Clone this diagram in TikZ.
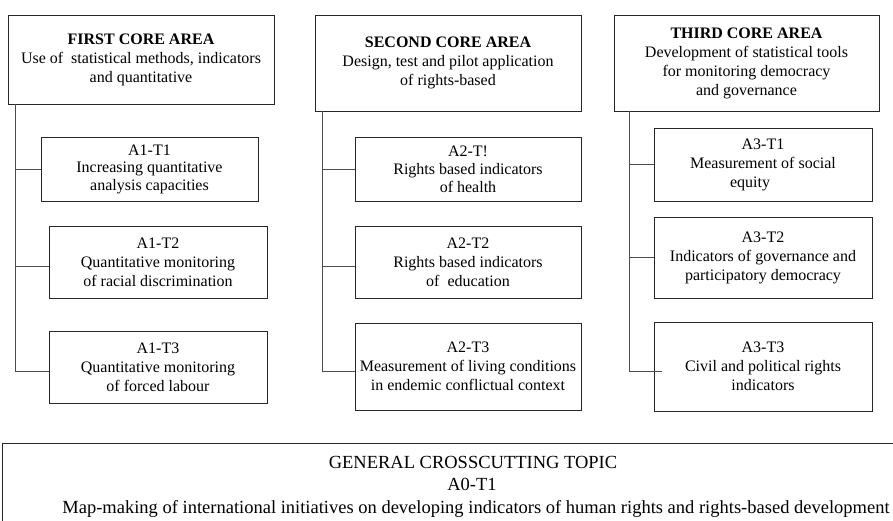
\documentclass[tikz,border=0pt]{standalone}
\usepackage{fontspec}
\setmainfont{Liberation Serif}
\begin{document}
\begin{tikzpicture}[x=1pt,y=-1pt,
  box/.style={draw=black!85, line width=0.8pt, inner sep=0pt, align=center,
    font=\fontsize{16}{19}\selectfont},
  link/.style={draw=black!70, line width=0.8pt},
  gentext/.style={inner sep=0pt, font=\fontsize{18.5}{22}\selectfont}]
\clip (0,0) rectangle (893,520);
% core areas
\node[box, minimum width=266, minimum height=89] (C1) at (141,59.5)
  {\textbf{FIRST CORE AREA}\\Use of\ \ statistical methods, indicators\\and quantitative};
\node[box, minimum width=266, minimum height=96] (C2) at (448,63)
  {\textbf{SECOND CORE AREA}\\Design, test and pilot application\\of rights-based};
\node[box, minimum width=265, minimum height=96] (C3) at (746.5,63)
  {\textbf{THIRD CORE AREA}\\Development of statistical tools\\for monitoring democracy\\and governance};
% topics
\node[box, minimum width=217, minimum height=64] (A1T1) at (149.5,169)
  {A1-T1\\[-1.5pt]Increasing quantitative\\[-1.5pt]analysis capacities};
\node[box, minimum width=218, minimum height=72] (A1T2) at (158,262)
  {A1-T2\\Quantitative monitoring\\of racial discrimination};
\node[box, minimum width=218, minimum height=72] (A1T3) at (158,367)
  {A1-T3\\Quantitative monitoring\\of forced labour};
\node[box, minimum width=226, minimum height=64] (A2T1) at (468,169)
  {A2-T!\\[-1pt]Rights based indicators\\[-1pt]of health};
\node[box, minimum width=226, minimum height=72] (A2T2) at (468,262)
  {A2-T2\\Rights based indicators\\of\ \ education};
\node[box, minimum width=226, minimum height=87] (A2T3) at (468,366.5)
  {A2-T3\\Measurement of living conditions\\in endemic conflictual context};
\node[box, minimum width=218, minimum height=73] (A3T1) at (763,164.5)
  {A3-T1\\Measurement of social\\equity\hspace*{26pt}};
\node[box, minimum width=218, minimum height=81] (A3T2) at (763,257.5)
  {A3-T2\\Indicators of governance and\\participatory democracy};
\node[box, minimum width=218, minimum height=89] (A3T3) at (763,366.5)
  {A3-T3\\Civil and political rights\\indicators};
% trunks
\coordinate (t1) at ([xshift=8pt]C1.south west);
\coordinate (t2) at ([xshift=8pt]C2.south west);
\coordinate (t3) at ([xshift=16pt]C3.south west);
\draw[link] (t1) |- ([yshift=-4pt]A1T3.west);
\draw[link] (A1T1.west -| t1) -- (A1T1.west);
\draw[link] ([yshift=-4pt]A1T2.west -| t1) -- ([yshift=-4pt]A1T2.west);
\draw[link] (t2) |- ([yshift=-4.5pt]A2T3.west);
\draw[link] (A2T1.west -| t2) -- (A2T1.west);
\draw[link] ([yshift=-4pt]A2T2.west -| t2) -- ([yshift=-4pt]A2T2.west);
\draw[link] (t3) |- ([xshift=8pt,yshift=-4.5pt]A3T3.west);
\draw[link] (A3T1.west -| t3) -- (A3T1.west);
\draw[link] (A3T2.west -| t3) -- (A3T2.west);
% general crosscutting topic
\node[draw=black!85, line width=0.8pt, inner sep=0pt, minimum width=900, minimum height=95,
  anchor=north west] (gen) at (2,443) {};
\node[gentext, anchor=base] (g1) at (473,468) {GENERAL CROSSCUTTING TOPIC};
\node[gentext, anchor=base] (g2) at (472,490.5) {A0-T1};
\node[gentext, anchor=base] (g3) at (476,513) {Map-making of international initiatives on developing indicators of human rights and rights-based development};
\end{tikzpicture}
\end{document}
